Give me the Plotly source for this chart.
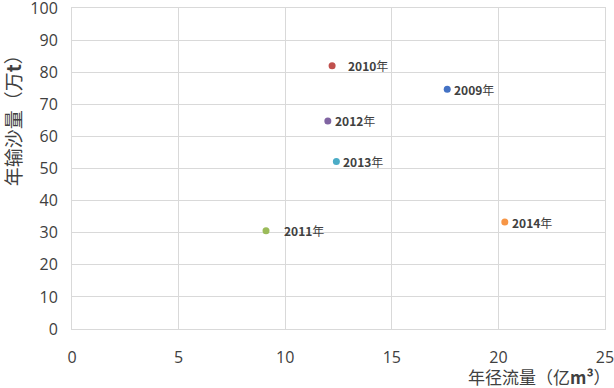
import plotly.graph_objects as go

years = ["2009", "2010", "2011", "2012", "2013", "2014"]
runoff = [17.6, 12.2, 9.1, 12.0, 12.4, 20.3]      # 年径流量 (亿m³)
sediment = [74.7, 82.0, 30.6, 64.8, 52.2, 33.3]   # 年输沙量 (万t)
colors = ["#4472C4", "#C0504D", "#9BBB59", "#8064A2", "#4BACC6", "#F79646"]
label_shift = [8, 17, 19, 8, 8, 8]

x_ticks = [0, 5, 10, 15, 20, 25]
y_ticks = [0, 10, 20, 30, 40, 50, 60, 70, 80, 90, 100]

fig = go.Figure()
for yr, xv, yv, c in zip(years, runoff, sediment, colors):
    fig.add_trace(go.Scatter(x=[xv], y=[yv], mode="markers",
                             marker=dict(color=c, size=7), name=yr + "年",
                             showlegend=False, cliponaxis=False))

ann = []
for yr, xv, yv, s in zip(years, runoff, sediment, label_shift):
    ann.append(dict(x=xv, y=yv, xref="x", yref="y", text="<b>" + yr + "</b>年",
                    showarrow=False, xanchor="left", yanchor="middle", xshift=s - 3,
                    font=dict(family="Noto Sans CJK SC", size=12, color="#404040")))
ann.append(dict(x=0.0, y=0.663, xref="paper", yref="paper", xanchor="center", yanchor="middle",
                xshift=-60, text="年输沙量（万<b>t</b>）", textangle=-90, showarrow=False,
                font=dict(family="Noto Sans CJK SC", size=19, color="#404040")))
ann.append(dict(x=1.0, y=0, xref="paper", yref="paper", xanchor="right", yanchor="middle",
                xshift=8, yshift=-47, text="年径流量（亿<b>m³</b>）", showarrow=False,
                font=dict(family="Noto Sans CJK SC", size=17, color="#404040")))

fig.update_layout(
    width=614, height=388,
    margin=dict(l=72, r=9, t=8, b=59, autoexpand=False),
    plot_bgcolor="white", paper_bgcolor="white",
    annotations=ann,
    font=dict(family="Open Sans", size=16, color="#404040"),
)
fig.update_xaxes(range=[0, 25], tickvals=x_ticks, showgrid=True, gridcolor="#D9D9D9",
                 zeroline=False, showline=True, linecolor="#D9D9D9", mirror=True,
                 ticks="", ticklabelstandoff=14, tickfont=dict(size=16), automargin=False,
                 ticklabeloverflow="allow")
fig.update_yaxes(range=[0, 100], tickvals=y_ticks, showgrid=True, gridcolor="#D9D9D9",
                 zeroline=False, showline=True, linecolor="#D9D9D9", mirror=True,
                 ticks="", ticklabelstandoff=10, tickfont=dict(size=16), automargin=False,
                 ticklabeloverflow="allow")

fig.write_html("out.html", config={"displayModeBar": False},
               post_script="document.body.style.margin='0';document.body.style.overflow='hidden';")
